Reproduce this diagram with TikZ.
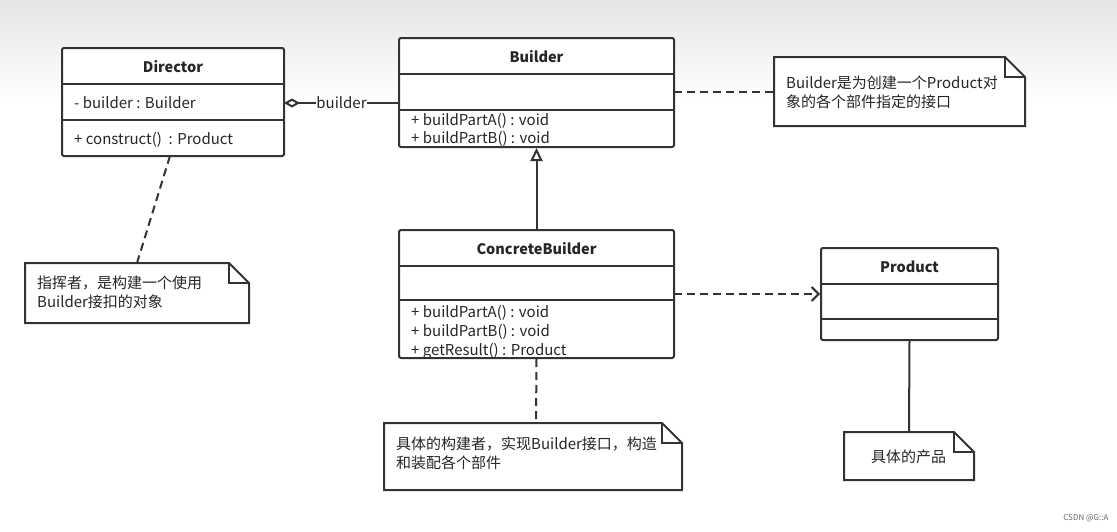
\documentclass[tikz,border=0pt]{standalone}
\usepackage{fontspec}
\setmainfont{Noto Sans CJK SC}
\usetikzlibrary{arrows.meta,calc}
\begin{document}
\begin{tikzpicture}[x=1pt,y=-1pt,
  cls/.style={draw=black!80,line width=2pt,rounded corners=2pt,fill=white,inner sep=0pt},
  sep/.style={draw=black!80,line width=2pt},
  title/.style={font=\fontsize{14.5}{16}\selectfont\bfseries,text=black!85},
  txt/.style={font=\fontsize{15}{17}\selectfont,text=black!85,anchor=west,inner sep=0pt},
  ntxt/.style={font=\fontsize{15}{19}\selectfont,text=black!85,anchor=north west,inner sep=0pt,align=left},
  dashed line/.style={draw=black!80,line width=2pt,dash pattern=on 8pt off 5pt},
  conn/.style={draw=black!80,line width=2pt}]
\useasboundingbox (0,0) rectangle (1117,531);
\shade[top color=black!10,bottom color=white] (0,0) rectangle (1117,100);
\newcommand{\note}[5]{% name, x1,y1,x2,y2
  \path[draw=black!80,line width=2pt,fill=white] (#2,#3) -- (#4-20,#3) -- (#4,#3+20) -- (#4,#5) -- (#2,#5) -- cycle;
  \draw[black!80,line width=2pt] (#4-20,#3) -- (#4-20,#3+20) -- (#4,#3+20);
  \coordinate (#1) at ($(#2,#3)!0.5!(#4,#5)$);}
% classes
\node[cls,minimum width=222pt,minimum height=108pt] (dir) at (173,102) {};
\draw[sep] (62,84) -- (284,84) (62,120) -- (284,120);
\node[title] (dirt) at (173,67) {Director};
\node[txt] (dira) at (74,103) {- builder : Builder};
\node[txt] (dirm) at (74,140) {+ construct()\ \ : Product};

\node[cls,minimum width=275pt,minimum height=109pt] (bld) at (536.5,92.5) {};
\draw[sep] (399,74) -- (674,74) (399,110) -- (674,110);
\node[title] (bldt) at (536.5,57) {Builder};
\node[txt] (bld1) at (411,121) {+ buildPartA() : void};
\node[txt] (bld2) at (411,139) {+ buildPartB() : void};

\node[cls,minimum width=275pt,minimum height=128pt] (cb) at (536.5,294) {};
\draw[sep] (399,266) -- (674,266) (399,300) -- (674,300);
\node[title] (cbt) at (536.5,249) {ConcreteBuilder};
\node[txt] (cb1) at (411,313) {+ buildPartA() : void};
\node[txt] (cb2) at (411,332) {+ buildPartB() : void};
\node[txt] (cb3) at (411,351) {+ getResult() : Product};

\node[cls,minimum width=177pt,minimum height=92pt] (prod) at (909.5,294) {};
\draw[sep] (821,284) -- (998,284) (821,319) -- (998,319);
\node[title] (prodt) at (909.5,267) {Product};

% notes
\note{nb}{774}{57}{1025}{126}
\node[ntxt] (nbt) at (786,76) {Builder是为创建一个Product对\\象的各个部件指定的接口};
\note{nd}{25}{263}{249}{323}
\node[ntxt] (ndt) at (37,276) {指挥者，是构建一个使用\\Builder接扣的对象};
\note{nc}{384}{423}{682}{490}
\node[ntxt] (nct) at (396,437) {具体的构建者，实现Builder接口，构造\\和装配各个部件};
\note{np}{844}{432}{974}{480}
\node[ntxt] (npt) at (871,450) {具体的产品};

% connectors
\coordinate (dirR) at (284,103);
\coordinate (bldL) at (399,103);
\draw[conn,{Diamond[open,length=16pt,width=9pt]}-] (dirR) -- (bldL)
  node[pos=0.5,fill=white,inner sep=0pt,font=\fontsize{15}{17}\selectfont,text=black!85] (lbl) {builder};
\draw[conn,-{Triangle[open,length=13pt,width=12pt]}] (cb.north) -- (bld.south);
\draw[dashed line] (674,92) -- (774,92);
\draw[dashed line] (170,156) -- (137,263);
\draw[dashed line] (cb.south) -- (536,423);
\draw[dashed line,-{Straight Barb[length=7pt,width=14pt]}] (674,294) -- (prod.west);
\draw[conn] (prod.south) -- (909,432);
\node[font=\fontsize{8}{9}\selectfont,text=black!60,anchor=east] (wm) at (1112,518) {CSDN @G::A};
\end{tikzpicture}
\end{document}
